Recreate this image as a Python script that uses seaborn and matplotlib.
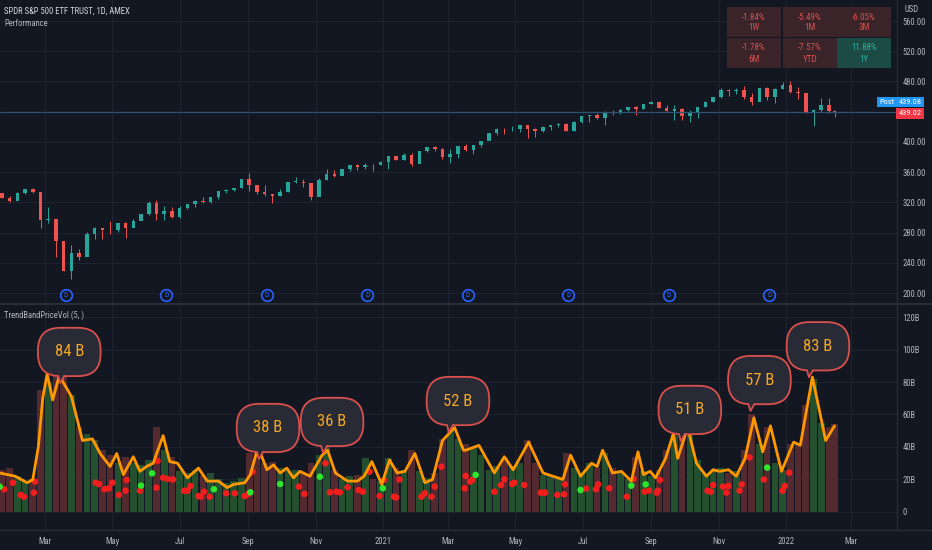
import pandas as pd
import matplotlib
matplotlib.use("Agg")
import matplotlib.pyplot as plt
import matplotlib.dates as mdates
from matplotlib.patches import Rectangle, Polygon
from matplotlib import font_manager
import seaborn as sns

# weekly SPY candles (close / high / low), first open = prior week close
first_open = 331.95
closes = [325.7, 321.7, 332.2, 337.6, 333.5, 296.3, 297.5, 269.3, 228.8, 253.4,
          248.2, 278.2, 286.6, 283.0, 282.8, 292.4, 286.3, 295.4, 304.3, 319.3,
          304.2, 308.6, 300.1, 312.2, 317.6, 321.7, 320.9, 326.5, 334.6, 336.8,
          339.5, 350.6, 342.6, 334.1, 330.6, 328.7, 333.8, 346.9, 347.3, 345.8,
          326.5, 350.2, 358.1, 355.3, 363.7, 369.9, 366.3, 369.2, 369.0, 373.9,
          381.3, 375.7, 382.9, 370.1, 387.7, 392.6, 390.0, 380.4, 383.6, 394.1,
          389.5, 396.0, 400.6, 411.5, 417.3, 416.7, 417.3, 422.1, 416.6, 414.9,
          420.0, 422.6, 424.3, 414.9, 426.6, 433.7, 435.5, 431.3, 439.9, 438.5,
          442.5, 445.9, 443.4, 450.3, 453.1, 445.4, 441.4, 443.9, 434.2, 437.9,
          445.9, 453.1, 459.3, 468.5, 467.3, 468.9, 459.0, 453.4, 470.7, 459.9,
          470.6, 475.0, 466.1, 464.7, 438.0, 442.0, 448.7, 440.5, 439.02]
highs = [332.2, 327.9, 334.2, 338.0, 339.1, 331.8, 313.8, 288.5, 257.6, 263.3,
         257.7, 281.2, 287.3, 283.9, 294.9, 293.0, 294.3, 298.0, 305.0, 321.3,
         323.4, 315.6, 314.5, 315.7, 318.0, 323.0, 327.2, 326.6, 334.9, 338.3,
         339.6, 350.7, 358.8, 342.5, 343.1, 330.9, 338.3, 347.0, 354.0, 350.5,
         343.0, 352.2, 364.4, 362.3, 364.2, 369.9, 371.1, 372.5, 371.2, 374.7,
         381.5, 381.1, 385.9, 385.9, 388.5, 392.9, 394.2, 392.2, 390.1, 395.0,
         397.8, 396.0, 400.7, 411.7, 417.9, 418.2, 420.7, 422.8, 422.7, 418.2,
         421.3, 422.9, 424.6, 425.5, 427.1, 434.1, 435.8, 437.9, 440.3, 441.8,
         442.9, 445.9, 447.1, 450.7, 454.1, 454.1, 448.9, 448.3, 445.0, 441.7,
         446.3, 454.7, 459.6, 470.7, 470.0, 470.9, 473.5, 464.7, 470.9, 472.9,
         470.9, 479.0, 480.0, 473.2, 463.9, 444.0, 458.1, 457.9, 442.3]
lows = [325.2, 320.7, 323.4, 331.2, 332.6, 285.5, 293.1, 247.7, 228.8, 218.3,
        243.9, 257.3, 272.0, 271.4, 278.2, 280.5, 273.0, 293.0, 296.7, 303.1,
        296.0, 296.7, 299.4, 298.9, 311.5, 313.4, 319.2, 319.6, 324.1, 332.9,
        334.6, 339.4, 334.9, 331.0, 328.0, 319.8, 328.7, 333.6, 346.0, 339.9,
        322.6, 327.9, 349.0, 353.6, 357.0, 362.0, 363.3, 364.2, 362.0, 369.5,
        364.8, 375.4, 376.3, 368.3, 371.9, 386.0, 387.7, 377.4, 371.9, 378.9,
        387.8, 383.9, 392.6, 404.0, 409.5, 410.6, 414.5, 413.7, 405.0, 406.4,
        413.0, 416.3, 420.0, 414.7, 414.7, 425.6, 426.4, 430.9, 422.0, 436.1,
        436.3, 440.4, 436.1, 443.4, 450.1, 445.3, 441.0, 428.9, 428.8, 426.4,
        431.5, 446.1, 452.4, 457.8, 460.6, 464.0, 456.2, 448.9, 456.9, 455.3,
        451.7, 470.3, 464.7, 457.2, 437.8, 420.8, 439.8, 438.9, 433.2]
candle_dates = list(pd.date_range("2020-01-22", "2022-02-09", freq="W-WED")) + [pd.Timestamp("2022-02-14")]

# weekly dollar volume, billions
volumes = [26, 27, 22, 19, 20, 75, 80, 95, 88, 72,
           52, 48, 44, 38, 35, 30, 34, 30, 29, 32,
           52, 38, 34, 25, 24, 26, 23, 24, 20, 18,
           19, 21, 36, 38, 30, 31, 27, 25, 26, 24,
           30, 35, 40, 26, 20, 22, 23, 33, 20, 19,
           33, 27, 26, 38, 25, 21, 24, 45, 52, 45,
           42, 40, 35, 26, 28, 33, 28, 30, 44, 30,
           23, 22, 21, 36, 27, 24, 30, 27, 36, 27,
           24, 20, 34, 25, 22, 26, 38, 48, 46, 50,
           32, 24, 26, 27, 24, 25, 38, 60, 42, 52,
           30, 26, 42, 42, 66, 82, 55, 52, 54]

# smoothed volume band
band_dates = ["2020-01-20", "2020-02-03", "2020-02-14", "2020-02-19", "2020-02-24", "2020-02-28",
              "2020-03-03", "2020-03-08", "2020-03-14", "2020-03-25", "2020-04-04", "2020-04-13",
              "2020-04-20", "2020-04-29", "2020-05-05", "2020-05-11", "2020-05-20", "2020-05-26",
              "2020-06-01", "2020-06-07", "2020-06-16", "2020-06-22", "2020-06-29", "2020-07-08",
              "2020-07-18", "2020-07-26", "2020-08-05", "2020-08-13", "2020-08-19", "2020-08-29",
              "2020-09-03", "2020-09-10", "2020-09-18", "2020-09-24", "2020-09-30", "2020-10-06",
              "2020-10-12", "2020-10-18", "2020-10-27", "2020-11-07", "2020-11-12", "2020-11-19",
              "2020-11-30", "2020-12-09", "2020-12-15", "2020-12-22", "2020-12-31", "2021-01-07",
              "2021-01-14", "2021-01-21", "2021-01-30", "2021-02-08", "2021-02-15", "2021-02-24",
              "2021-03-07", "2021-03-15", "2021-03-17", "2021-03-29", "2021-04-12", "2021-04-21",
              "2021-04-29", "2021-05-04", "2021-05-13", "2021-05-26", "2021-06-13", "2021-06-20",
              "2021-06-29", "2021-07-09", "2021-07-14", "2021-07-19", "2021-07-28", "2021-08-05",
              "2021-08-14", "2021-08-20", "2021-08-25", "2021-08-31", "2021-09-05", "2021-09-14",
              "2021-09-21", "2021-09-25", "2021-10-04", "2021-10-12", "2021-10-21", "2021-10-27",
              "2021-11-02", "2021-11-10", "2021-11-17", "2021-11-25", "2021-12-03", "2021-12-11",
              "2021-12-18", "2021-12-28", "2022-01-08", "2022-01-14", "2022-01-25", "2022-02-06",
              "2022-02-14"]
band_vals = [24, 22, 18, 20, 40, 70,
             85, 69, 84, 71, 44, 45,
             36, 28, 36, 23, 34, 25,
             28, 30, 47, 31, 30, 21,
             27, 19, 19, 15, 17, 18,
             23, 40, 26, 29, 24, 27,
             21, 25, 22, 35, 38, 24,
             19, 19, 22, 31, 17, 32,
             24, 25, 36, 18, 20, 44,
             52, 38, 38, 41, 24, 34,
             26, 32, 43, 24, 20, 35,
             22, 30, 28, 38, 24, 25,
             19, 37, 23, 25, 21, 33,
             48, 33, 52, 30, 22, 26,
             25, 26, 22, 33, 58, 37,
             53, 25, 43, 41, 83, 44,
             53]

red_dates = ["2020-01-24", "2020-02-01", "2020-02-08", "2020-02-11", "2020-02-20", "2020-02-21",
             "2020-04-16", "2020-04-19", "2020-04-24", "2020-04-28", "2020-05-01", "2020-05-07",
             "2020-05-13", "2020-05-14", "2020-05-26", "2020-06-10", "2020-06-11", "2020-06-16",
             "2020-06-20", "2020-06-25", "2020-07-05", "2020-07-08", "2020-07-11", "2020-07-18",
             "2020-07-20", "2020-07-23", "2020-07-28", "2020-08-12", "2020-08-20", "2020-08-29",
             "2020-09-01", "2020-09-05", "2020-10-17", "2020-10-22", "2020-11-10", "2020-11-14",
             "2020-11-20", "2020-11-23", "2020-11-30", "2020-12-10", "2020-12-14", "2020-12-20",
             "2020-12-29", "2021-01-02", "2021-01-11", "2021-01-13", "2021-01-16", "2021-02-05",
             "2021-02-08", "2021-02-14", "2021-02-17", "2021-02-23", "2021-03-16", "2021-03-17",
             "2021-03-21", "2021-03-23", "2021-04-12", "2021-04-18", "2021-04-21", "2021-04-28",
             "2021-04-30", "2021-05-09", "2021-05-24", "2021-05-27", "2021-05-28", "2021-06-08",
             "2021-06-14", "2021-06-15", "2021-07-04", "2021-07-13", "2021-07-15", "2021-07-25",
             "2021-08-10", "2021-08-16", "2021-08-26", "2021-08-30", "2021-09-06", "2021-09-07",
             "2021-09-09", "2021-10-22", "2021-10-25", "2021-10-27", "2021-11-05", "2021-11-08",
             "2021-11-10", "2021-11-20", "2021-11-22", "2021-11-29", "2021-12-12", "2021-12-29",
             "2021-12-31", "2022-01-04"]
red_vals = [14.0, 18.0, 10.5, 9.4, 11.9, 18.7,
            18.0, 17.2, 14.0, 14.6, 18.0, 10.5,
            13.1, 19.7, 13.1, 15.0, 31.4, 21.1,
            20.3, 20.0, 13.1, 13.1, 16.0, 9.8,
            9.4, 12.5, 9.4, 11.5, 11.5, 9.8,
            11.1, 24.8, 15.6, 11.1, 30.0, 12.1,
            12.5, 12.1, 15.2, 13.5, 12.5, 24.8,
            9.8, 19.7, 9.4, 9.0, 20.0, 9.4,
            11.5, 9.4, 15.6, 27.9, 14.6, 22.2,
            18.7, 19.7, 12.5, 16.6, 20.1, 17.2,
            18.0, 16.6, 11.9, 11.9, 11.9, 10.5,
            10.9, 17.0, 14.4, 14.0, 17.0, 14.6,
            9.4, 20.3, 12.5, 13.1, 11.9, 13.1,
            19.7, 13.1, 12.5, 16.6, 15.6, 11.9,
            16.0, 13.1, 17.0, 33.6, 20.0, 13.1,
            16.0, 24.2]
green_dates = ["2020-01-20", "2020-05-27", "2020-06-06", "2020-08-01", "2020-09-03", "2020-09-30",
               "2020-11-05", "2021-01-01", "2021-03-26", "2021-06-29", "2021-08-14", "2021-08-27",
               "2021-12-15"]
green_vals = [15.6, 16.2, 23.8, 14.0, 12.1, 17.2,
              21.7, 14.6, 22.8, 13.5, 16.2, 17.0,
              27.3]

# peak callouts (box centres)
label_text = ["84 B", "38 B", "36 B", "52 B", "51 B", "57 B", "83 B"]
label_dates = ["2020-03-23", "2020-09-19", "2020-11-16", "2021-03-10", "2021-10-06", "2021-12-08", "2022-01-30"]
label_vals = [98.5, 51.7, 55.4, 68.3, 62.8, 81.2, 102.0]

perf_values = ["-1.84%", "-5.49%", "-6.05%", "-1.78%", "-7.57%", "11.88%"]
perf_periods = ["1W", "1M", "3M", "6M", "YTD", "1Y"]

dividend_dates = ["2020-03-20", "2020-06-19", "2020-09-18", "2020-12-18",
                  "2021-03-19", "2021-06-18", "2021-09-17", "2021-12-17"]

last_price = 439.02
post_price = 439.08

BG = "#131722"
GRID = "#1f2330"
TXT = "#b2b5be"
UP = "#26a69a"
DOWN = "#ef5350"
BOX_FC = "#282b35"
BOX_EC = "#d9504c"

sns.set_style("dark", rc={"axes.facecolor": BG, "figure.facecolor": BG})

# pick a narrow face if one is installed, TradingView text is condensed
installed = {(f.name, f.stretch) for f in font_manager.fontManager.ttflist}
names = {n for n, _ in installed}
stretch = "normal"
if "Roboto Condensed" in names:
    family = "Roboto Condensed"
elif "Liberation Sans Narrow" in names:
    family = "Liberation Sans Narrow"
elif ("DejaVu Sans", "condensed") in installed or ("DejaVu Sans", "semi-condensed") in installed:
    family = "DejaVu Sans"
    stretch = "condensed"
else:
    family = "Liberation Sans"
plt.rcParams["font.family"] = [family, "DejaVu Sans"]
plt.rcParams["font.stretch"] = stretch

W, H = 932, 550
fig = plt.figure(figsize=(9.32, 5.5), dpi=100)
ax = fig.add_axes([0, 247 / H, 897 / W, 303 / H])
ax2 = fig.add_axes([0, 20 / H, 897 / W, 225 / H])

xmin = pd.Timestamp("2020-01-20 07:00")
xmax = pd.Timestamp("2022-04-11 14:00")

for a in (ax, ax2):
    a.set_facecolor(BG)
    a.set_xlim(xmin, xmax)
    a.xaxis.set_major_locator(mdates.MonthLocator(bymonth=[1, 3, 5, 7, 9, 11]))
    a.grid(True, color=GRID, lw=0.8)
    a.yaxis.tick_right()
    a.tick_params(length=0, colors=TXT, labelsize=6.2, pad=4)
    for s in a.spines.values():
        s.set_visible(False)
    a.spines["right"].set_visible(True)
    a.spines["right"].set_color("#2a2e39")

# price candles
opens = [first_open] + closes[:-1]
cols = [UP if c >= o else DOWN for o, c in zip(opens, closes)]
ax.vlines(candle_dates, lows, highs, colors=cols, lw=0.7)
ax.bar(candle_dates, [max(abs(c - o), 0.8) for o, c in zip(opens, closes)],
       bottom=[min(o, c) for o, c in zip(opens, closes)], width=3.2, color=cols,
       edgecolor="none", linewidth=0)
ax.axhline(last_price, color="#2c5275", lw=0.9)
ax.set_ylim(186.8, 587.8)
ax.set_yticks([200, 240, 280, 320, 360, 400, 480, 520, 560])
ax.set_yticklabels([f"{v:.2f}" for v in [200, 240, 280, 320, 360, 400, 480, 520, 560]])
ax.tick_params(axis="x", labelbottom=False)

div_x = pd.to_datetime(dividend_dates)
ax.scatter(div_x, [0.027] * len(div_x), transform=ax.get_xaxis_transform(), s=70,
           facecolor=BG, edgecolor="#2962ff", lw=1.2, zorder=5, clip_on=False)
for d in div_x:
    ax.text(d, 0.027, "D", transform=ax.get_xaxis_transform(), ha="center", va="center",
            fontsize=5.5, color="#2962ff", zorder=6)

# volume panel
vcols = ["#24502f" if c >= o else "#532a30" for o, c in zip(opens, closes)]
ax2.bar(candle_dates, volumes, width=6.0, color=vcols, edgecolor="none", linewidth=0)
sns.scatterplot(x=pd.to_datetime(red_dates), y=red_vals, ax=ax2, color="#f21d1d", s=22,
                edgecolor="none", zorder=4)
sns.scatterplot(x=pd.to_datetime(green_dates), y=green_vals, ax=ax2, color="#2ee62e", s=22,
                edgecolor="none", zorder=4)
sns.lineplot(x=pd.to_datetime(band_dates), y=band_vals, ax=ax2, color="#ff9800", lw=2,
             sort=False, estimator=None, zorder=5)
ax2.set_ylim(-11.1, 127.4)
ax2.set_yticks([0, 20, 40, 60, 80, 100, 120])
ax2.set_yticklabels(["0", "20B", "40B", "60B", "80B", "100B", "120B"])
ax2.xaxis.set_major_formatter(plt.FuncFormatter(
    lambda v, p: str(mdates.num2date(v).year) if mdates.num2date(v).month == 1
    else mdates.num2date(v).strftime("%b")))
ax2.tick_params(axis="x", pad=5)
ax2.set_xlabel("")
ax2.set_ylabel("")

# callout bubbles: rounded box plus a small tail under its left half (pixel offsets)
for t, d, v in zip(label_text, label_dates, label_vals):
    ax2.text(pd.Timestamp(d), v, t, ha="center", va="center", fontsize=12, color="#f5a623",
             zorder=8, bbox=dict(boxstyle="round,pad=1.0,rounding_size=1.35", fc=BOX_FC,
                                 ec=BOX_EC, lw=1.3))
    cx, cy = ax2.transData.transform((mdates.date2num(pd.Timestamp(d)), v))
    base = cy - 24.0
    tail = [(cx - 11, base + 1.5), (cx - 5, base + 1.5), (cx - 9, base - 7)]
    fig.add_artist(Polygon(tail, closed=True, transform=None, fc=BOX_FC, ec="none", zorder=9))
    fig.add_artist(plt.Line2D([cx - 11, cx - 9, cx - 5], [base, base - 7, base], transform=None,
                              color=BOX_EC, lw=1.3, zorder=10))

# panel separators
fig.add_artist(plt.Line2D([0, 1], [1 - 304 / H, 1 - 304 / H], color="#2a2e39", lw=1.5))
fig.add_artist(plt.Line2D([0, 1], [20 / H, 20 / H], color="#2a2e39", lw=1))

# titles
fig.text(4 / W, 1 - 11 / H, "SPDR S&P 500 ETF TRUST, 1D, AMEX", fontsize=6.2, color="#d1d4dc", va="center")
fig.text(4 / W, 1 - 23 / H, "Performance", fontsize=6.2, color=TXT, va="center")
fig.text(4 / W, 1 - 315 / H, "TrendBandPriceVol (5, )", fontsize=6.2, color=TXT, va="center")
fig.text(912 / W, 1 - 10 / H, "USD", fontsize=6.2, color=TXT, ha="center", va="center")

# performance table
cell_x = [727, 783, 837]
cell_y = [7, 38]
for i, (val, per) in enumerate(zip(perf_values, perf_periods)):
    cx = cell_x[i % 3]
    cy = cell_y[i // 3]
    pos = not val.startswith("-")
    fig.add_artist(Rectangle((cx / W, 1 - (cy + 30) / H), 54 / W, 30 / H, transform=fig.transFigure,
                             fc="#1c4a44" if pos else "#3a2329", ec="none"))
    fig.text((cx + 27) / W, 1 - (cy + 10) / H, val, fontsize=6.5, ha="center", va="center",
             color="#2bb0a0" if pos else "#d6514f")
    fig.text((cx + 27) / W, 1 - (cy + 21) / H, per, fontsize=6.5, ha="center", va="center",
             color="#2bb0a0" if pos else "#d6514f")

# price tags
fig.text(887 / W, 1 - 102 / H, "Post", fontsize=6, color="white", ha="center", va="center",
         bbox=dict(boxstyle="square,pad=0.25", fc="#2196f3", ec="none"))
fig.text(910 / W, 1 - 102 / H, f"{post_price:.2f}", fontsize=6, color="white", ha="center", va="center",
         bbox=dict(boxstyle="square,pad=0.25", fc="#2196f3", ec="none"))
fig.text(910 / W, 1 - 113.5 / H, f"{last_price:.2f}", fontsize=6, color="white", ha="center", va="center",
         bbox=dict(boxstyle="square,pad=0.25", fc="#f23645", ec="none"))

fig.savefig("out.png", dpi=100, facecolor=BG)
